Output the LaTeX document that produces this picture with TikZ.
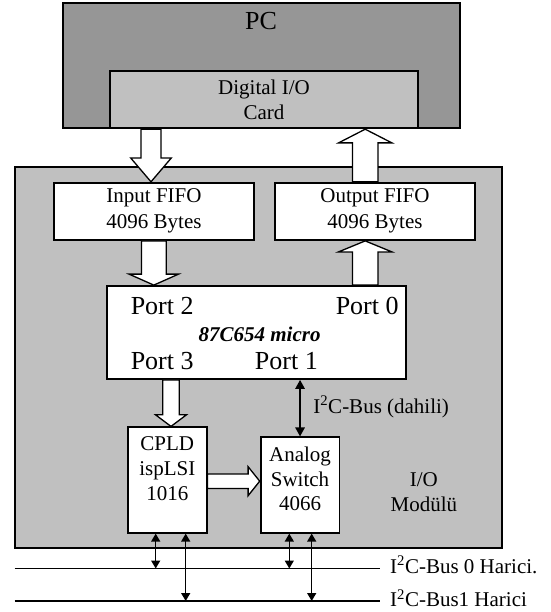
\documentclass[tikz,border=0pt]{standalone}
\usepackage{fontspec}
\setmainfont{Liberation Serif}
\usetikzlibrary{arrows.meta,calc}
\definecolor{pcgray}{RGB}{150,150,150}
\definecolor{lgray}{RGB}{192,192,192}
\tikzset{
  box/.style={draw, line width=1.8pt, inner sep=0pt, fill=white},
  txt/.style={inner sep=0pt, anchor=base, font=\fontsize{21}{25}\selectfont},
  bigtxt/.style={inner sep=0pt, anchor=base, font=\fontsize{26}{30}\selectfont},
  blockarrow/.style={draw, line width=1.3pt, fill=white, line join=miter},
  busline/.style={line width=1.8pt},
  dbl/.style={line width=1.4pt, {Triangle[length=8pt,width=9pt]}-{Triangle[length=8pt,width=9pt]}},
  dblbig/.style={line width=1.4pt, {Triangle[length=9pt,width=9.5pt]}-{Triangle[length=9pt,width=9.5pt]}},
}
\newcommand\vblock[5]{%
  \draw[blockarrow] let \p1=#1, \p2=#2, \n1={sign(\y2-\y1)*#5pt} in
    ({\x1-#3pt},\y1) -- ({\x1-#3pt},{\y2-(\n1)}) -- ({\x1-#4pt},{\y2-(\n1)})
    -- (\x1,\y2) -- ({\x1+#4pt},{\y2-(\n1)}) -- ({\x1+#3pt},{\y2-(\n1)})
    -- ({\x1+#3pt},\y1) -- cycle;}
\newcommand\hblock[5]{%
  \draw[blockarrow] let \p1=#1, \p2=#2, \n1={sign(\x2-\x1)*#5pt} in
    (\x1,{\y1-#3pt}) -- ({\x2-(\n1)},{\y1-#3pt}) -- ({\x2-(\n1)},{\y1-#4pt})
    -- (\x2,\y1) -- ({\x2-(\n1)},{\y1+#4pt}) -- ({\x2-(\n1)},{\y1+#3pt})
    -- (\x1,{\y1+#3pt}) -- cycle;}
\begin{document}
\begin{tikzpicture}[x=1pt,y=-1pt]
\useasboundingbox (0,0) rectangle (550,612);
% boxes
\node[box, fill=pcgray, minimum width=397pt, minimum height=125.6pt] (pc) at (261.5,65.5) {};
\node[box, fill=lgray, minimum width=308pt, minimum height=57.6pt] (card) at (264,99.5) {};
\node[box, fill=lgray, minimum width=487.3pt, minimum height=381pt] (module) at (258.35,357.2) {};
\node[box, minimum width=200.6pt, minimum height=57.3pt] (infifo) at (154,211.35) {};
\node[box, minimum width=200.7pt, minimum height=57.3pt] (outfifo) at (375,211.35) {};
\node[box, minimum width=299pt, minimum height=93pt] (micro) at (256.5,332.5) {};
\node[box, minimum width=78.6pt, minimum height=105.4pt] (cpld) at (167.3,480) {};
\node[box, minimum width=78.9pt, minimum height=95.4pt] (analog) at (300.05,485) {};
% texts
\node[bigtxt] (pct) at (261,30) {PC};
\node[txt] (card1) at (264,95) {Digital I/O};
\node[txt] (card2) at (264,119.5) {Card};
\node[txt] (in1) at (154,203) {Input FIFO};
\node[txt] (in2) at (154,228) {4096 Bytes};
\node[txt] (out1) at (375,203) {Output FIFO};
\node[txt] (out2) at (375,228) {4096 Bytes};
\node[bigtxt] (p2) at (162.2,314) {Port 2};
\node[bigtxt] (p0) at (367.2,314) {Port 0};
\node[txt, font=\fontsize{21}{25}\selectfont\bfseries\itshape] (mic) at (259.6,341.7) {87C654 micro};
\node[bigtxt] (p3) at (162.2,369.3) {Port 3};
\node[bigtxt] (p1) at (286.4,369.3) {Port 1};
\node[txt] (cp1) at (167.3,450.7) {CPLD};
\node[txt] (cp2) at (167.3,475.5) {ispLSI};
\node[txt] (cp3) at (167.3,500.5) {1016};
\node[txt] (an1) at (300,461.5) {Analog};
\node[txt] (an2) at (300,486) {Switch};
\node[txt] (an3) at (300,510.5) {4066};
\node[txt, anchor=base west] (dah) at (313.2,413) {I\textsuperscript{2}C-Bus (dahili)};
\node[txt] (io1) at (423.9,486.7) {I/O};
\node[txt] (io2) at (423.9,511.7) {Modülü};
% block arrows
\coordinate (xa) at (151,0);
\coordinate (xb) at (365.2,0);
\coordinate (xc) at (153.8,0);
\coordinate (xd) at (171,0);
\coordinate (ya) at (0,481.2);
\vblock{(card.south -| xa)}{(infifo.north -| xa)}{10}{20.2}{23.7}
\vblock{(outfifo.north -| xb)}{(card.south -| xb)}{12.7}{26.7}{13.7}
\vblock{(infifo.south -| xc)}{(micro.north -| xc)}{12.4}{24.8}{11}
\vblock{(micro.north -| xb)}{(outfifo.south -| xb)}{12.7}{26.7}{11}
\vblock{(micro.south -| xd)}{(cpld.north -| xd)}{8.3}{15.5}{11.6}
\hblock{(cpld.east |- ya)}{(analog.west |- ya)}{7.2}{14.5}{11.6}
% internal I2C
\draw[dblbig] (micro.south -| analog.north) -- (analog.north);
% buses
\coordinate (b0w) at (14.7,568.5);
\coordinate (b0e) at (380,568.5);
\coordinate (b1w) at (14.7,601);
\coordinate (b1e) at (380,601);
\draw[busline] (b0w) -- (b0e);
\draw[busline] (b1w) -- (b1e);
\node[txt, anchor=base west] (bus0) at (390,573.3) {I\textsuperscript{2}C-Bus 0 Harici.};
\node[txt, anchor=base west] (bus1) at (390,606.7) {I\textsuperscript{2}C-Bus1 Harici};
\coordinate (xf) at (155.7,0);
\coordinate (xg) at (185.7,0);
\coordinate (xh) at (289.3,0);
\coordinate (xi) at (311.7,0);
\draw[dbl] (cpld.south -| xf) -- (b0w -| xf);
\draw[dbl] (cpld.south -| xg) -- (b1w -| xg);
\draw[dbl] (analog.south -| xh) -- (b0w -| xh);
\draw[dbl] (analog.south -| xi) -- (b1w -| xi);
\end{tikzpicture}
\end{document}
